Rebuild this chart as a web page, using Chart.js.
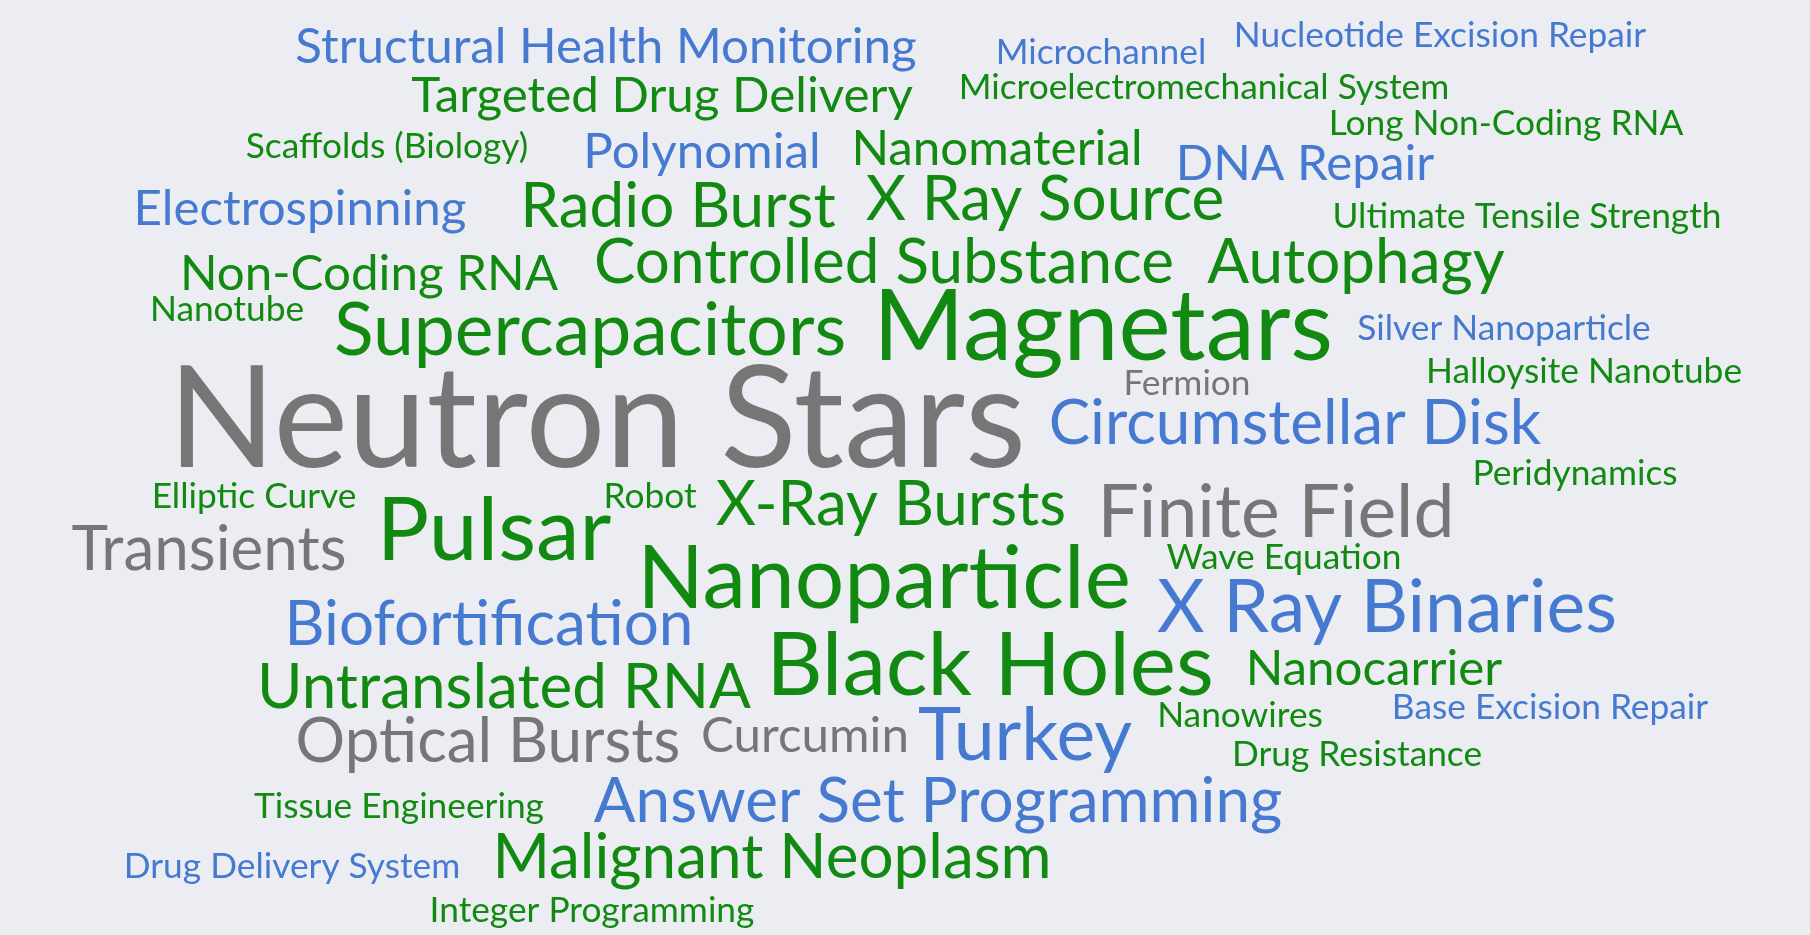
<!DOCTYPE html>
<html>
<head>
<meta charset="utf-8">
<title>Research fingerprint</title>
<script src="https://cdn.jsdelivr.net/npm/chart.js@4.4.1/dist/chart.umd.min.js"></script>
<style>
  html, body { margin: 0; padding: 0; background: #ecedf2; }
  #cloud { display: block; }
</style>
</head>
<body>
<canvas id="cloud" width="1810" height="935"></canvas>
<script>
// concepts in the fingerprint
const words = [
  'Structural Health Monitoring', 'Microchannel', 'Nucleotide Excision Repair',
  'Targeted Drug Delivery', 'Microelectromechanical System', 'Long Non-Coding RNA',
  'Scaffolds (Biology)', 'Polynomial', 'Nanomaterial', 'DNA Repair',
  'Electrospinning', 'Radio Burst', 'X Ray Source', 'Ultimate Tensile Strength',
  'Non-Coding RNA', 'Controlled Substance', 'Autophagy',
  'Nanotube', 'Supercapacitors', 'Magnetars', 'Silver Nanoparticle',
  'Fermion', 'Halloysite Nanotube',
  'Neutron Stars', 'Circumstellar Disk', 'Peridynamics',
  'Elliptic Curve', 'Robot', 'X-Ray Bursts', 'Finite Field',
  'Transients', 'Pulsar', 'Wave Equation',
  'Nanoparticle', 'X Ray Binaries', 'Biofortification',
  'Black Holes', 'Untranslated RNA', 'Nanocarrier', 'Nanowires', 'Base Excision Repair',
  'Optical Bursts', 'Curcumin', 'Turkey', 'Drug Resistance',
  'Tissue Engineering', 'Answer Set Programming',
  'Drug Delivery System', 'Malignant Neoplasm',
  'Integer Programming'
];

// relative weight of each concept (100 = strongest)
const weights = [
  35, 25, 25,
  35, 25, 25,
  25, 35, 35, 35,
  35, 44, 44, 25,
  35, 44, 44,
  25, 52, 70, 25,
  25, 25,
  100, 44, 25,
  25, 25, 44, 52,
  44, 62, 25,
  62, 52, 44,
  62, 44, 35, 25, 25,
  44, 35, 52, 25,
  25, 44,
  25, 44,
  25
];

// subject area: 0 = physics & astronomy, 1 = life sciences / engineering, 2 = mathematics / computing
const groups = [
  2, 2, 2,
  1, 1, 1,
  1, 2, 1, 2,
  2, 1, 1, 1,
  1, 1, 1,
  1, 1, 1, 2,
  0, 1,
  0, 2, 1,
  1, 1, 1, 0,
  0, 1, 1,
  1, 2, 2,
  1, 1, 1, 1, 2,
  0, 0, 2, 1,
  1, 2,
  2, 1,
  1
];

// cloud layout (word centre along x, baseline along y)
const cloudX = [
  606, 1101, 1440,
  662, 1204, 1506,
  387, 702, 997, 1305,
  300, 678, 1045, 1527,
  369, 884, 1356,
  227, 590, 1103, 1504,
  1187, 1584,
  597, 1295, 1575,
  254, 650, 891, 1276,
  209, 494, 1284,
  884, 1387, 489,
  990, 504, 1374, 1240, 1550,
  488, 805, 1025, 1357,
  399, 938,
  292, 772,
  592
];
const cloudY = [
  63, 64, 47,
  112, 99, 135,
  158, 168, 165, 180,
  225, 227, 220, 228,
  290, 283, 283,
  321, 355, 360, 340,
  395, 383,
  467, 444, 485,
  508, 508, 525, 537,
  570, 560, 569,
  608, 632, 645,
  695, 708, 685, 727, 719,
  762, 752, 760, 766,
  818, 822,
  878, 878,
  922
];

const groupColors = ['#767676', '#128a12', '#4679d0'];
const fontFamily = 'Lato, "Open Sans", sans-serif';
const sizeOf = w => w * 1.41;

const points = words.map((w, i) => ({ x: cloudX[i], y: cloudY[i], word: w, weight: weights[i], group: groups[i] }));

const wordLabels = {
  id: 'wordLabels',
  afterDatasetsDraw(chart) {
    const ctx = chart.ctx;
    const meta = chart.getDatasetMeta(0);
    ctx.save();
    ctx.textAlign = 'center';
    ctx.textBaseline = 'alphabetic';
    meta.data.forEach((el, i) => {
      const p = chart.data.datasets[0].data[i];
      ctx.font = sizeOf(p.weight).toFixed(1) + 'px ' + fontFamily;
      ctx.fillStyle = groupColors[p.group];
      ctx.fillText(p.word, el.x, el.y);
    });
    ctx.restore();
  }
};

new Chart(document.getElementById('cloud').getContext('2d'), {
  type: 'scatter',
  data: {
    datasets: [{
      data: points,
      pointRadius: 0,
      pointHoverRadius: 0,
    }]
  },
  options: {
    responsive: false,
    animation: false,
    layout: { padding: 0 },
    scales: {
      x: { type: 'linear', min: 0, max: 1810, display: false },
      y: { type: 'linear', min: 0, max: 935, reverse: true, display: false }
    },
    plugins: {
      legend: { display: false },
      tooltip: {
        callbacks: {
          label: ctx => ` ${ctx.raw.word}: ${ctx.raw.weight}`
        }
      }
    }
  },
  plugins: [wordLabels]
});
</script>
</body>
</html>
